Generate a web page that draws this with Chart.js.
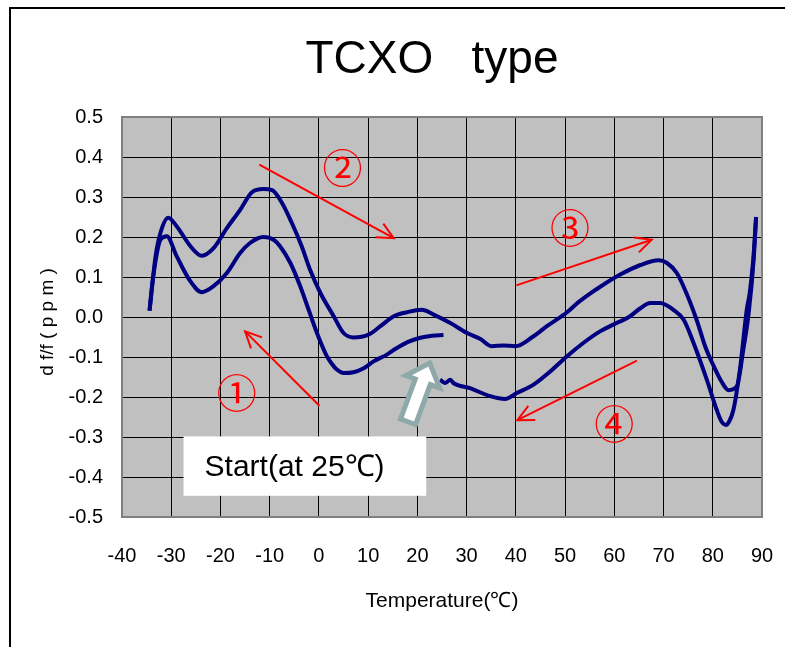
<!DOCTYPE html>
<html>
<head>
<meta charset="utf-8">
<script src="https://cdn.jsdelivr.net/npm/chart.js@4.4.1/dist/chart.umd.min.js"></script>
<style>
  html, body { margin: 0; padding: 0; background: #fff; }
  #wrap { width: 785px; height: 647px; }
</style>
</head>
<body>
<div id="wrap"><canvas id="tcxo" width="785" height="647"></canvas></div>
<script>
// ---- data ----
// 1) cooling from the start point (25 C) down to -35 C
const cool1Temp = [25.3, 23.0, 20.6, 18.0, 15.5, 13.8, 11.1, 9.1, 7.0, 5.0, 3.7, 2.5, 1.6, -0.4, -2.0, -3.8, -5.8, -7.9, -9.2, -11.3, -14.0, -16.0, -18.7, -21.4, -23.8, -26.1, -28.9, -30.9, -32.2, -32.9, -33.9, -34.4];
const cool1Val  = [-0.045, -0.047, -0.052, -0.063, -0.080, -0.094, -0.111, -0.128, -0.138, -0.140, -0.132, -0.115, -0.098, -0.040, 0.015, 0.077, 0.135, 0.177, 0.193, 0.200, 0.185, 0.160, 0.110, 0.077, 0.062, 0.089, 0.152, 0.202, 0.193, 0.160, 0.077, 0.016];

// 2) heating from -35 C up to 89 C
const heatTemp = [-34.4, -33.2, -32.2, -30.6, -28.9, -26.1, -23.8, -21.4, -18.7, -16.0, -13.6, -11.3, -9.5, -7.5, -5.5, -3.5, -1.8, 0.3, 3.0, 5.0, 7.0, 10.1, 12.5, 15.2, 17.9, 20.9, 23.3, 26.7, 30.1, 32.8, 35.1, 37.5, 39.9, 43.6, 46.3, 50.4, 52.6, 55.0, 57.3, 61.2, 65.3, 69.0, 70.7, 72.7, 74.8, 76.8, 78.5, 80.2, 81.8, 83.2, 84.9, 86.2, 87.3, 88.3, 88.8];
const heatVal  = [0.016, 0.150, 0.210, 0.248, 0.227, 0.177, 0.153, 0.172, 0.222, 0.268, 0.312, 0.320, 0.317, 0.285, 0.235, 0.177, 0.118, 0.060, 0.002, -0.040, -0.051, -0.044, -0.023, 0.002, 0.012, 0.018, 0.006, -0.015, -0.040, -0.055, -0.073, -0.071, -0.073, -0.048, -0.023, 0.012, 0.036, 0.058, 0.077, 0.106, 0.130, 0.142, 0.135, 0.110, 0.055, -0.010, -0.075, -0.123, -0.162, -0.183, -0.173, -0.082, 0.010, 0.143, 0.250];

// 3) cooling from 89 C back to 25 C
const cool2Temp = [88.8, 88.2, 87.5, 86.9, 85.6, 84.2, 83.3, 82.7, 81.8, 80.8, 78.8, 76.1, 74.1, 72.0, 69.3, 67.3, 65.3, 63.2, 59.8, 57.1, 53.7, 50.4, 47.0, 43.6, 40.2, 37.8, 34.8, 30.7, 27.3, 26.7, 25.6, 24.6];
const cool2Val  = [0.250, 0.140, 0.060, 0.018, -0.123, -0.232, -0.262, -0.270, -0.262, -0.232, -0.157, -0.065, -0.007, 0.018, 0.035, 0.035, 0.022, 0.002, -0.019, -0.036, -0.065, -0.098, -0.136, -0.169, -0.190, -0.205, -0.198, -0.178, -0.165, -0.157, -0.165, -0.157];

const xTicks = [-40, -30, -20, -10, 0, 10, 20, 30, 40, 50, 60, 70, 80, 90];
const yTicks = [-0.5, -0.4, -0.3, -0.2, -0.1, 0.0, 0.1, 0.2, 0.3, 0.4, 0.5];

const stepLabels = ['①', '②', '③', '④'];

// ---- annotation placement (data units) ----
const stepPos   = [[-16.7, -0.19], [4.8, 0.372], [51.0, 0.222], [60.0, -0.267]];
const stepArrow = [[[0.1, -0.222], [-15.0, -0.036]], [[-12.1, 0.381], [15.2, 0.197]], [[40.1, 0.079], [67.6, 0.193]], [[64.6, -0.109], [40.3, -0.258]]];
const startBox  = [-27.5, -0.2985, 21.8, -0.447];
const startArrow = [[18.1, -0.262], [22.5, -0.115]];

const FONT = "'Liberation Sans', Arial, sans-serif";

const toXY = (t, v) => t.map((x, i) => ({ x: x, y: v[i] }));

const lineStyle = {
  borderColor: '#000080',
  borderWidth: 4,
  pointRadius: 0,
  showLine: true,
  fill: false,
  cubicInterpolationMode: 'monotone'
};

function arrowHead(ctx, x0, y0, x1, y1, len) {
  const ang = Math.atan2(y1 - y0, x1 - x0);
  ctx.beginPath();
  ctx.moveTo(x1 - len * Math.cos(ang - 0.45), y1 - len * Math.sin(ang - 0.45));
  ctx.lineTo(x1, y1);
  ctx.lineTo(x1 - len * Math.cos(ang + 0.45), y1 - len * Math.sin(ang + 0.45));
  ctx.stroke();
}

const decor = {
  id: 'decor',
  beforeDraw(chart) {
    const ctx = chart.ctx, a = chart.chartArea;
    ctx.save();
    ctx.fillStyle = '#fff';
    ctx.fillRect(0, 0, chart.width, chart.height);
    ctx.strokeStyle = '#000';
    ctx.lineWidth = 2;
    ctx.beginPath();
    ctx.moveTo(10, chart.height);
    ctx.lineTo(10, 8);
    ctx.lineTo(chart.width, 8);
    ctx.stroke();
    ctx.fillStyle = '#c0c0c0';
    ctx.fillRect(a.left, a.top, a.right - a.left, a.bottom - a.top);
    ctx.restore();
  },
  beforeDatasetsDraw(chart) {
    const ctx = chart.ctx, a = chart.chartArea;
    ctx.save();
    ctx.strokeStyle = '#808080';
    ctx.lineWidth = 2;
    ctx.strokeRect(a.left, a.top, a.right - a.left, a.bottom - a.top);
    ctx.restore();
  },
  afterDatasetsDraw(chart) {
    const ctx = chart.ctx, xs = chart.scales.x, ys = chart.scales.y;
    const px = t => xs.getPixelForValue(t), py = v => ys.getPixelForValue(v);
    ctx.save();

    // red step arrows
    ctx.strokeStyle = '#ff0000';
    ctx.lineWidth = 2;
    stepArrow.forEach(ar => {
      const x0 = px(ar[0][0]), y0 = py(ar[0][1]), x1 = px(ar[1][0]), y1 = py(ar[1][1]);
      ctx.beginPath();
      ctx.moveTo(x0, y0);
      ctx.lineTo(x1, y1);
      ctx.stroke();
      arrowHead(ctx, x0, y0, x1, y1, 18);
    });

    // circled step numbers
    ctx.fillStyle = '#ff0000';
    ctx.font = "40px 'Noto Sans CJK JP'";
    ctx.textAlign = 'center';
    ctx.textBaseline = 'middle';
    stepLabels.forEach((s, i) => ctx.fillText(s, px(stepPos[i][0]), py(stepPos[i][1])));

    // start box
    const bx0 = px(startBox[0]), by0 = py(startBox[1]), bx1 = px(startBox[2]), by1 = py(startBox[3]);
    ctx.fillStyle = '#fff';
    ctx.fillRect(bx0, by0, bx1 - bx0, by1 - by0);
    ctx.fillStyle = '#000';
    ctx.font = '30px ' + FONT;
    ctx.textAlign = 'left';
    ctx.fillText('Start(at 25℃)', bx0 + 21, (by0 + by1) / 2 + 2);

    // hollow start arrow
    const tx = px(startArrow[0][0]), ty = py(startArrow[0][1]);
    const hx = px(startArrow[1][0]), hy = py(startArrow[1][1]);
    const L = Math.hypot(hx - tx, hy - ty), ux = (hx - tx) / L, uy = (hy - ty) / L;
    const nx = -uy, ny = ux;
    const sw = 8, hw = 18, hl = 20;
    const bxh = hx - ux * hl, byh = hy - uy * hl;
    ctx.beginPath();
    ctx.moveTo(tx + nx * sw, ty + ny * sw);
    ctx.lineTo(bxh + nx * sw, byh + ny * sw);
    ctx.lineTo(bxh + nx * hw, byh + ny * hw);
    ctx.lineTo(hx, hy);
    ctx.lineTo(bxh - nx * hw, byh - ny * hw);
    ctx.lineTo(bxh - nx * sw, byh - ny * sw);
    ctx.lineTo(tx - nx * sw, ty - ny * sw);
    ctx.closePath();
    ctx.fillStyle = '#fff';
    ctx.fill();
    ctx.strokeStyle = '#8fa8a8';
    ctx.lineWidth = 5;
    ctx.stroke();

    ctx.restore();
  },
  afterDraw(chart) {
    const ctx = chart.ctx, a = chart.chartArea;
    ctx.save();
    ctx.fillStyle = '#000';
    ctx.textAlign = 'center';
    ctx.textBaseline = 'alphabetic';
    ctx.font = '46px ' + FONT;
    ctx.fillText('TCXO   type', 432, 73);
    ctx.textBaseline = 'middle';
    ctx.font = '21px ' + FONT;
    ctx.fillText('Temperature(℃)', (a.left + a.right) / 2, 601);
    ctx.translate(48, 322);
    ctx.rotate(-Math.PI / 2);
    ctx.font = '19px ' + FONT;
    ctx.fillText('d f/f ( p p m )', 0, 0);
    ctx.restore();
  }
};

new Chart(document.getElementById('tcxo'), {
  type: 'scatter',
  data: {
    datasets: [
      Object.assign({ label: 'cooling 1', data: toXY(cool1Temp, cool1Val) }, lineStyle),
      Object.assign({ label: 'heating', data: toXY(heatTemp, heatVal) }, lineStyle),
      Object.assign({ label: 'cooling 2', data: toXY(cool2Temp, cool2Val) }, lineStyle)
    ]
  },
  options: {
    responsive: false,
    animation: false,
    devicePixelRatio: 1,
    layout: { padding: { left: 0, top: 117, right: 23, bottom: 0 } },
    plugins: { legend: { display: false }, tooltip: { enabled: false } },
    scales: {
      x: {
        type: 'linear',
        min: xTicks[0],
        max: xTicks[xTicks.length - 1],
        afterBuildTicks: s => { s.ticks = xTicks.map(v => ({ value: v })); },
        afterFit: s => { s.height = 130; s.paddingLeft = 0; s.paddingRight = 0; },
        grid: { color: '#000', lineWidth: 1, drawTicks: false },
        border: { display: false },
        ticks: {
          padding: 27,
          color: '#000',
          font: { family: FONT, size: 20 },
          maxRotation: 0,
          autoSkip: false
        }
      },
      y: {
        type: 'linear',
        min: yTicks[0],
        max: yTicks[yTicks.length - 1],
        afterBuildTicks: s => { s.ticks = yTicks.map(v => ({ value: v })); },
        afterFit: s => { s.width = 122; s.paddingTop = 0; s.paddingBottom = 0; },
        grid: { color: '#000', lineWidth: 1, drawTicks: false },
        border: { display: false },
        ticks: {
          padding: 19,
          color: '#000',
          font: { family: FONT, size: 20 },
          autoSkip: false,
          callback: v => v.toFixed(1)
        }
      }
    }
  },
  plugins: [decor]
});
</script>
</body>
</html>
